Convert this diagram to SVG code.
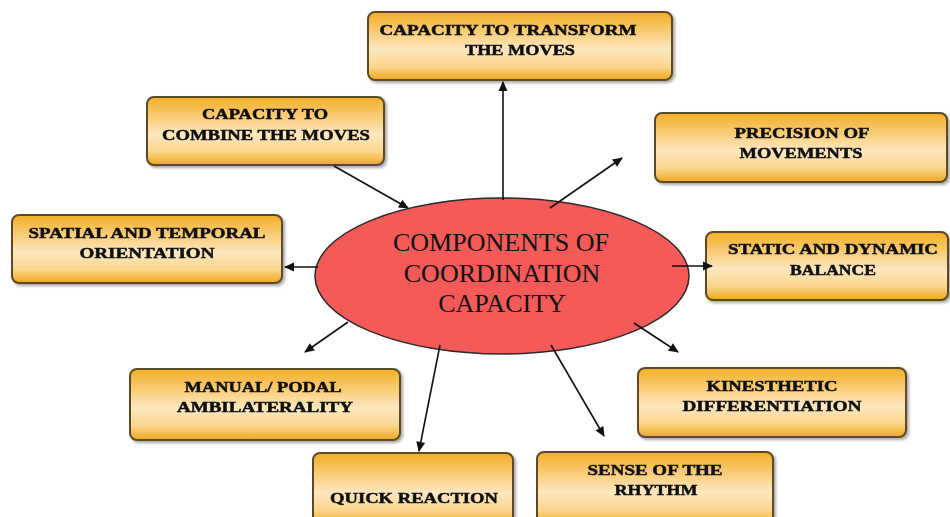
<svg xmlns="http://www.w3.org/2000/svg" width="950" height="517" viewBox="0 0 950 517">
  <style>
    .box { fill: url(#gold); stroke: #5b4a26; stroke-width: 2; }
    .lbl { font-family: "Liberation Serif", "DejaVu Serif", serif; font-weight: bold; font-size: 15.5px; fill: #111; stroke: #111; stroke-width: 0.5; text-anchor: middle; }
    .core { font-family: "Liberation Serif", "DejaVu Serif", serif; font-size: 26px; fill: #111; text-anchor: middle; }
    .conn { stroke: #111; stroke-width: 1.6; fill: none; marker-end: url(#head); }
  </style>
  <defs>
    <linearGradient id="gold" x1="0" y1="0" x2="0" y2="1">
      <stop offset="0" stop-color="#f3ae25"/>
      <stop offset="0.55" stop-color="#fde7c0"/>
      <stop offset="0.8" stop-color="#fbd68c"/>
      <stop offset="1" stop-color="#eea71b"/>
    </linearGradient>
    <filter id="shadow" x="-5%" y="-10%" width="112%" height="130%">
      <feGaussianBlur in="SourceAlpha" stdDeviation="1.5"/>
      <feOffset dx="1.5" dy="2" result="o"/>
      <feComponentTransfer><feFuncA type="linear" slope="0.35"/></feComponentTransfer>
      <feMerge><feMergeNode/><feMergeNode in="SourceGraphic"/></feMerge>
    </filter>
    <marker id="head" viewBox="0 0 10 10" refX="9" refY="5" markerWidth="11" markerHeight="10" markerUnits="userSpaceOnUse" orient="auto">
      <path d="M0,0.5 L10,5 L0,9.5 z" fill="#111"/>
    </marker>
  </defs>

  <rect width="950" height="517" fill="#ffffff"/>

  <!-- central node -->
  <g id="core">
    <ellipse cx="502" cy="276" rx="187" ry="78" fill="#f45a58" stroke="#2b2b2b" stroke-width="1.5"/>
    <text class="core" x="501" y="251">COMPONENTS OF</text>
    <text class="core" x="502" y="282">COORDINATION</text>
    <text class="core" x="502" y="312">CAPACITY</text>
  </g>

  <g id="transform" filter="url(#shadow)">
    <rect class="box" x="368" y="12" width="304" height="68" rx="7"/>
    <text class="lbl" x="508" y="35" textLength="257" lengthAdjust="spacingAndGlyphs">CAPACITY TO TRANSFORM</text>
    <text class="lbl" x="520" y="55" textLength="110" lengthAdjust="spacingAndGlyphs">THE MOVES</text>
  </g>

  <g id="combine" filter="url(#shadow)">
    <rect class="box" x="147" y="97" width="237" height="68" rx="7"/>
    <text class="lbl" x="265" y="119" textLength="126" lengthAdjust="spacingAndGlyphs">CAPACITY TO</text>
    <text class="lbl" x="266" y="140" textLength="208" lengthAdjust="spacingAndGlyphs">COMBINE THE MOVES</text>
  </g>

  <g id="precision" filter="url(#shadow)">
    <rect class="box" x="655" y="113" width="292" height="69" rx="7"/>
    <text class="lbl" x="802" y="138" textLength="135" lengthAdjust="spacingAndGlyphs">PRECISION OF</text>
    <text class="lbl" x="801" y="158" textLength="123" lengthAdjust="spacingAndGlyphs">MOVEMENTS</text>
  </g>

  <g id="spatial" filter="url(#shadow)">
    <rect class="box" x="12" y="215" width="270" height="68" rx="7"/>
    <text class="lbl" x="147" y="238" textLength="237" lengthAdjust="spacingAndGlyphs">SPATIAL AND TEMPORAL</text>
    <text class="lbl" x="147" y="258" textLength="135" lengthAdjust="spacingAndGlyphs">ORIENTATION</text>
  </g>

  <g id="balance" filter="url(#shadow)">
    <rect class="box" x="706" y="232" width="242" height="68" rx="7"/>
    <text class="lbl" x="833" y="254" textLength="210" lengthAdjust="spacingAndGlyphs">STATIC AND DYNAMIC</text>
    <text class="lbl" x="833" y="275" textLength="86" lengthAdjust="spacingAndGlyphs">BALANCE</text>
  </g>

  <g id="ambilaterality" filter="url(#shadow)">
    <rect class="box" x="130" y="369" width="270" height="71" rx="7"/>
    <text class="lbl" x="263" y="392" textLength="157" lengthAdjust="spacingAndGlyphs">MANUAL/ PODAL</text>
    <text class="lbl" x="265" y="412" textLength="176" lengthAdjust="spacingAndGlyphs">AMBILATERALITY</text>
  </g>

  <g id="kinesthetic" filter="url(#shadow)">
    <rect class="box" x="638" y="368" width="268" height="69" rx="7"/>
    <text class="lbl" x="772" y="391" textLength="131" lengthAdjust="spacingAndGlyphs">KINESTHETIC</text>
    <text class="lbl" x="772" y="411" textLength="179" lengthAdjust="spacingAndGlyphs">DIFFERENTIATION</text>
  </g>

  <g id="reaction" filter="url(#shadow)">
    <rect class="box" x="313" y="453" width="200" height="72" rx="7"/>
    <text class="lbl" x="414" y="503" textLength="168" lengthAdjust="spacingAndGlyphs">QUICK REACTION</text>
  </g>

  <g id="rhythm" filter="url(#shadow)">
    <rect class="box" x="537" y="452" width="236" height="73" rx="7"/>
    <text class="lbl" x="655" y="475" textLength="135" lengthAdjust="spacingAndGlyphs">SENSE OF THE</text>
    <text class="lbl" x="656" y="495" textLength="83" lengthAdjust="spacingAndGlyphs">RHYTHM</text>
  </g>

  <!-- connectors, drawn last so they start inside the ellipse -->
  <g id="connectors">
    <line class="conn" x1="503" y1="200" x2="503" y2="82"/>
    <line class="conn" x1="334" y1="166" x2="408" y2="208"/>
    <line class="conn" x1="550" y1="208" x2="622" y2="158"/>
    <line class="conn" x1="318" y1="267" x2="285" y2="267"/>
    <line class="conn" x1="672" y1="266" x2="712" y2="266"/>
    <line class="conn" x1="348" y1="322" x2="305" y2="352"/>
    <line class="conn" x1="634" y1="323" x2="678" y2="352"/>
    <line class="conn" x1="440" y1="345" x2="419" y2="451"/>
    <line class="conn" x1="551" y1="345" x2="604" y2="436"/>
  </g>
</svg>
